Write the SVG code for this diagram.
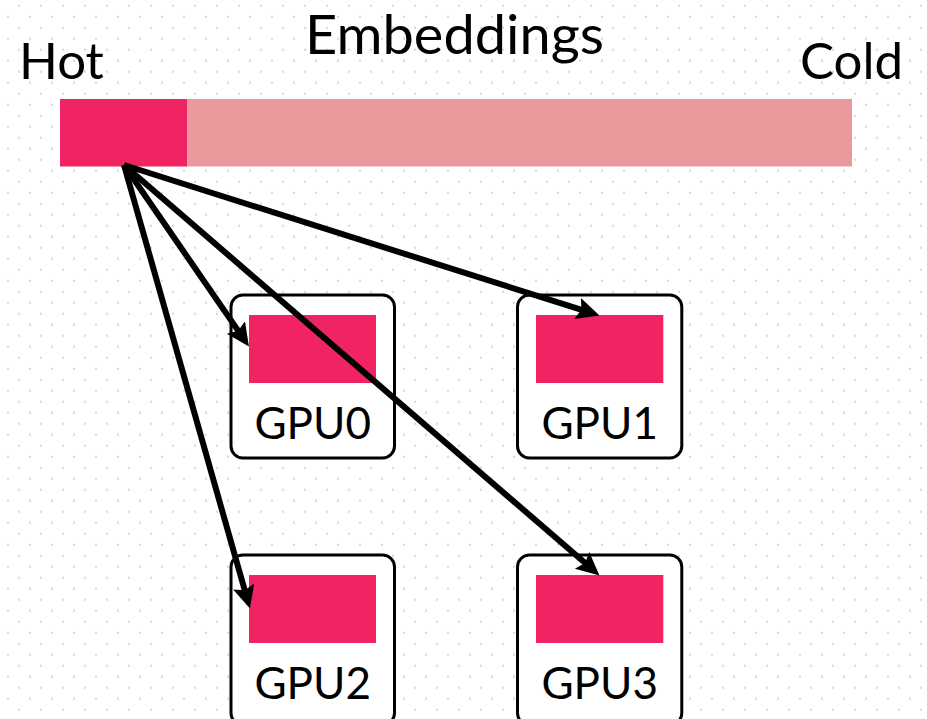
<svg xmlns="http://www.w3.org/2000/svg" width="927" height="719" viewBox="0 0 927 719">
  <style>
    text { font-family: Lato, "Open Sans", "Liberation Sans", sans-serif; fill: #000; }
    .title { font-size: 55px; }
    .end { font-size: 51px; }
    .label { font-size: 44px; text-anchor: middle; }
    .frame { fill: #fff; stroke: #000; stroke-width: 3; }
    .chunk { fill: #f02462; }
    .edge { fill: none; stroke: #000; stroke-width: 6; }
  </style>
  <defs>
    <!-- staggered dot grid backdrop -->
    <pattern id="dots" width="22" height="22" patternUnits="userSpaceOnUse">
      <rect x="18" y="4.7" width="2" height="2" fill="#d6d6d6"/>
      <rect x="7" y="15.7" width="2" height="2" fill="#d6d6d6"/>
    </pattern>
    <marker id="head" markerUnits="userSpaceOnUse" markerWidth="28" markerHeight="28" viewBox="0 -14 28 28" refX="6" refY="0" orient="auto">
      <path d="M23,0 L0,-11 L4,0 L0,11 Z" fill="#000"/>
    </marker>
  </defs>

  <rect width="927" height="719" fill="#fff"/>
  <rect width="927" height="719" fill="url(#dots)"/>

  <!-- embedding table: hot segment and cold remainder -->
  <g id="embeddings">
    <rect x="187" y="99" width="665" height="67.5" fill="#ea9a9d"/>
    <rect x="60" y="99" width="127" height="67.5" fill="#f02462"/>
    <text class="title" x="454.5" y="54" text-anchor="middle" textLength="299" lengthAdjust="spacingAndGlyphs">Embeddings</text>
    <text class="end" x="19" y="78.5">Hot</text>
    <text class="end" x="903" y="79" text-anchor="end">Cold</text>
  </g>

  <g id="gpu0">
    <rect class="frame" x="231" y="295" width="163.5" height="163" rx="12"/>
    <rect class="chunk" x="249" y="315" width="127" height="68"/>
    <text class="label" x="312.7" y="438.5">GPU0</text>
  </g>
  <g id="gpu1">
    <rect class="frame" x="517.5" y="295" width="164.3" height="163" rx="12"/>
    <rect class="chunk" x="536" y="315" width="127.3" height="68"/>
    <text class="label" x="599.7" y="438.5">GPU1</text>
  </g>
  <g id="gpu2">
    <rect class="frame" x="231" y="555" width="163.5" height="170" rx="12"/>
    <rect class="chunk" x="249" y="575" width="127" height="68"/>
    <text class="label" x="312.7" y="699">GPU2</text>
  </g>
  <g id="gpu3">
    <rect class="frame" x="517.5" y="555" width="164.3" height="170" rx="12"/>
    <rect class="chunk" x="536" y="575" width="127.3" height="68"/>
    <text class="label" x="599.7" y="699">GPU3</text>
  </g>

  <!-- hot rows copied out to every GPU -->
  <g id="connectors">
    <line class="edge" x1="124" y1="165" x2="583.3" y2="310.4" marker-end="url(#head)"/>
    <line class="edge" x1="124" y1="165" x2="586.6" y2="564.3" marker-end="url(#head)"/>
    <line class="edge" x1="124" y1="165" x2="239.3" y2="332.4" marker-end="url(#head)"/>
    <line class="edge" x1="124" y1="165" x2="245.3" y2="592.2" marker-end="url(#head)"/>
  </g>
</svg>
